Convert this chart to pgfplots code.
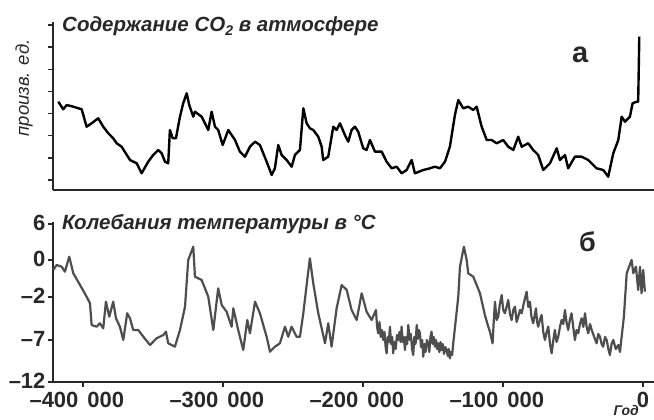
\documentclass[border=0pt]{standalone}
\usepackage{fontspec}
\setmainfont{Liberation Sans}
\usepackage{pgfplots}
\pgfplotsset{compat=1.18}
\usepackage{pgfplotstable}
\definecolor{tgray}{RGB}{78,78,78}
\definecolor{axk}{RGB}{40,40,40}
\newcommand{\xl}[1]{\makebox[0pt][r]{–#1\hspace{4.5pt}}\makebox[0pt][l]{\hspace{4.5pt}000}}

\pgfplotstableread{
x y
-417.6 88.3
-414.1 80.7
-411.6 85
-406.9 83.3
-400.9 80.7
-397.4 63.3
-393.8 66.7
-389.1 71.7
-385.5 63.3
-381.9 56.7
-378.4 51.7
-375.9 46.7
-372.4 43.3
-366.4 30
-361.6 26.7
-358.1 16.7
-353.4 28.3
-349.8 35
-346.2 40
-343.8 36.7
-341.4 28.3
-339.1 26.7
-337.9 60
-335.9 51.7
-333.6 51.7
-330.7 73.3
-328.4 86.7
-325.9 96.7
-324.1 85
-321.2 73.3
-320 78.3
-315.2 73.3
-310.5 60
-308.1 78.3
-305.7 63.3
-303.4 60
-300.2 45
-296.2 60
-291.4 50
-287.9 38.3
-284.3 33.3
-280.7 43.3
-277.1 48.3
-273.6 45
-268.8 28.3
-265.2 15
-262.9 21.7
-260.5 45
-258.1 35
-254.5 30
-250.9 23.3
-248.6 35
-245 40
-242.6 81.7
-240.2 66.7
-237.9 61.7
-235.5 60
-231.9 53.3
-229.5 43.3
-228.4 30
-224.8 33.3
-221.2 63.3
-218.8 60
-216.4 66.7
-212.9 55
-210.5 48.3
-208.1 60
-205.7 63.3
-203.4 58.3
-199.8 41.7
-197.4 40
-195 50
-191.4 38.3
-186.6 38.3
-183.1 28.3
-179.5 21.7
-175.9 23.3
-172.4 16.7
-168.8 20
-165.2 30
-162.9 16.7
-156.9 20
-152.1 21.7
-148.6 23.3
-145 21.7
-141.4 28.3
-137.9 43.3
-134.3 75
-131.9 90
-128.4 81.7
-124.8 83.3
-121.2 80
-118.8 83.3
-115.2 63.3
-111.6 50
-108.1 50
-104.5 46.7
-99.8 50
-96.2 43.3
-92.6 40
-89.1 53.3
-86.6 43.3
-81.9 46.7
-78.4 40
-74.8 35
-71.2 20
-66.4 26.7
-61.6 41.7
-59.3 30
-55.7 35
-53.4 21.7
-48.6 33.3
-43.8 33.3
-39.1 30
-33.1 21.7
-28.4 20
-24.8 13.3
-21.2 36.7
-17.6 50
-15.2 73.3
-12.9 68.3
-9.3 73.3
-7.4 86.7
-4.5 88.3
-3.4 88.3
-2.6 153.3
}\coTwo

\pgfplotstableread{
x y
-421.2 112
-418.8 117
-415.2 115.3
-412.9 110.3
-409.8 125.3
-406.9 108.7
-402.1 97
-397.4 85.3
-395 78.7
-393.8 57
-390.2 55.3
-387.9 58.7
-385.5 53.7
-383.6 80.3
-381.2 65.3
-378.4 80.3
-376.4 63.7
-373.6 55.3
-371.2 42
-368.4 68.7
-366.4 63.7
-364.1 52
-360.5 52
-356.9 45.3
-352.1 37
-347.4 43.7
-342.6 47
-340.7 50.3
-339.1 38.7
-334.3 35.3
-330.7 52
-327.1 75.3
-324.8 122
-321.2 135.3
-320 105.3
-315.2 102
-310.5 85.3
-306.9 52
-303.4 93.7
-300.9 77
-297.4 70.3
-293.8 55.3
-292.6 73.7
-289.1 52
-285.5 32
-282.6 62
-280.7 48.7
-277.1 80.3
-273.6 68.7
-268.8 45.3
-266.4 30.3
-262.9 35.3
-259.3 38.7
-255.7 55.3
-253.4 45.3
-251 55.3
-247.4 45.3
-245 45.3
-242.6 68.7
-239.8 102
-237.9 123.7
-235.5 98.7
-231.9 68.7
-227.1 38.7
-224.8 58.7
-222.4 35.3
-218.8 73.7
-215.2 97
-211.6 92
-208.1 72
-204.5 62
-200.9 88.7
-197.4 70.3
-193.8 62
-190.7 72
-189.9 55
-189.1 48.7
-188.2 60
-187.3 45
-186.4 52
-185.5 42
-184.6 50
-183.8 35
-183.1 28.7
-182.3 45
-181.5 40
-180.7 55.3
-179.9 38
-179.1 45
-178.4 28.7
-177.5 40
-176.6 33
-175.7 47
-174.8 42
-173.9 50
-173.1 40
-172.4 55.3
-171.6 40
-170.8 45
-170 32
-169.2 45
-168.4 38
-167.6 57
-166.7 42
-165.8 48
-164.9 33
-164.1 27
-163.3 45
-162.4 38
-161.6 57
-160.8 43
-160 52
-159.3 48.7
-158.5 35
-157.7 42
-156.9 25.3
-156.1 38
-155.3 30
-154.3 42
-153.4 38.7
-152.6 30
-151.8 45
-151 50.3
-150.2 38
-149.4 45
-148.6 35.3
-147.8 42
-147 33
-146.2 38.7
-145.4 30
-144.6 40
-143.8 32
-143 38
-142.1 28
-141.2 35
-140.2 32
-139.4 26
-138.7 33
-137.9 23.7
-137.1 30
-136.3 27
-135.5 38.7
-131.9 85.3
-130.7 115.3
-127.9 135.3
-125.9 122
-124.8 108.7
-121.2 105.3
-118.8 97
-116.4 88.7
-112.9 67
-110.5 55.3
-109.3 50.3
-107.4 38.7
-106.6 60
-105.7 80.3
-104.5 62
-103.4 65.3
-102.2 78
-100.9 87
-99.8 72
-98.6 68.7
-97.4 75
-96.2 82
-95 68
-93.8 62
-92.6 72
-91.4 75.3
-90.2 60
-89.1 65.3
-87.8 72
-86.6 68.7
-84.9 80
-83.1 90.3
-81.9 75
-80.7 80.3
-79.6 65
-78.4 58.7
-77.4 66
-76.4 73.7
-75.6 60
-74.8 55.3
-73.6 62
-72.4 67
-71.2 50
-70 42
-68.8 50
-67.6 55.3
-66.4 38
-65.2 28.7
-64 42
-62.9 52
-61.7 40
-60.5 45.3
-59.3 55
-58.1 62
-56.9 58
-55.7 72
-54.6 60
-53.4 52
-52.2 62
-51 68.7
-49.8 55
-48.6 42
-47.4 52
-46.2 48.7
-45 58
-43.8 63.7
-42.6 55
-41.4 68.7
-40.2 55
-39.1 48.7
-37.8 58
-36.6 52
-34.8 45
-33.1 38.7
-31.9 48
-30.7 45.3
-29.5 38
-28.4 35.3
-27.1 45
-25.9 42
-24.7 33
-23.6 27
-22.4 38
-21.2 42
-19.4 33
-17.6 37
-16.4 30
-15.2 45.3
-13.6 65.3
-11.6 108.7
-8.1 122
-6.9 108.7
-5 115.3
-3.4 92
-2.1 115.3
-1 88.7
0.2 112
1.4 90.3
}\temp

\begin{document}
\begin{tikzpicture}
\useasboundingbox (0,0) rectangle (654pt,420pt);
\pgfplotsset{
  common/.style={
    scale only axis, width=601pt,
    xmin=-421.4, xmax=7.9,
    axis x line=bottom, axis y line=left,
    axis line style={-, line width=1.5pt, draw=axk},
    tick style={line width=1.3pt, draw=axk},
    tick align=outside, major tick length=5pt,
    clip=false,
  }
}
% top panel: CO2
\begin{axis}[common,
  at={(53pt,230pt)}, anchor=south west, height=168pt,
  ymin=0, ymax=168,
  xtick=\empty,
  ytick={10,32.1,54.3,76.4,98.6,120.7,142.9,165},
  yticklabels={},
]
\addplot[black, line width=2.4pt, line join=round] table[x=x,y=y] {\coTwo};
\end{axis}
% bottom panel: temperature
\begin{axis}[common,
  at={(53pt,38pt)}, anchor=south west, height=160pt,
  ymin=0, ymax=160,
  xtick={-400,-300,-200,-100,0},
  xticklabels={\xl{400},\xl{300},\xl{200},\xl{100},0},
  ytick={0,42,85,122,158},
  yticklabels={–12,–7,–2,0,6},
  ticklabel style={font=\fontsize{22}{22}\selectfont\bfseries, text=axk},
  xticklabel style={yshift=-2pt},
  yticklabel style={xshift=1pt, yshift=1.5pt},
]
\addplot[tgray, line width=2.2pt, line join=round] table[x=x,y=y] {\temp};
\end{axis}
% texts
\node[anchor=base west, inner sep=0, text=axk] at (62pt,388pt)
  {\fontsize{20.5}{22}\selectfont\bfseries\itshape Содержание CO\raisebox{-0.3ex}{\fontsize{14}{14}\selectfont 2} в атмосфере};
\node[anchor=base west, inner sep=0, text=axk] at (62pt,190pt)
  {\fontsize{20.5}{22}\selectfont\bfseries\itshape Колебания температуры в °C};
\node[rotate=90, inner sep=0, text=axk] at (24pt,332pt)
  {\fontsize{18.5}{20}\selectfont\itshape произв. ед.};
\node[anchor=base west, inner sep=0, text=axk] at (572pt,357pt)
  {\fontsize{29}{30}\selectfont\bfseries а};
\node[anchor=base west, inner sep=0, text=axk] at (579pt,168pt)
  {\fontsize{27}{30}\selectfont\bfseries б};
\node[anchor=north east, inner sep=0, text=axk] at (639pt,14.5pt)
  {\fontsize{14}{15}\selectfont\bfseries\itshape Год};
\end{tikzpicture}
\end{document}
